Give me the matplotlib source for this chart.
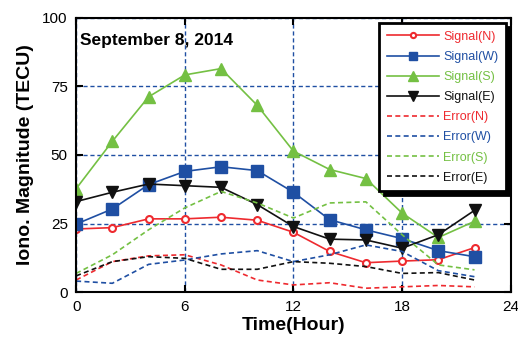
import matplotlib
matplotlib.use("Agg")
import matplotlib.pyplot as plt

plt.rcParams["font.family"] = ["Liberation Sans", "DejaVu Sans"]

hours = [0, 2, 4, 6, 8, 10, 12, 14, 16, 18, 20, 22]
signal_n = [23.0, 23.5, 26.7, 26.7, 27.3, 26.2, 21.8, 14.8, 10.7, 11.3, 11.8, 16.2]
signal_w = [24.8, 30.3, 39.2, 44.0, 45.7, 44.3, 36.4, 26.4, 22.7, 19.5, 15.1, 12.9]
signal_s = [37.7, 55.0, 71.2, 79.2, 81.5, 68.1, 51.4, 44.7, 41.4, 28.8, 19.9, 25.8]
signal_e = [33.0, 36.4, 39.4, 38.8, 38.2, 31.9, 23.9, 19.3, 19.0, 16.0, 20.9, 29.8]
error_n = [4.4, 11.1, 13.2, 13.6, 9.9, 4.4, 2.6, 3.4, 1.4, 1.9, 2.4, 1.9]
error_w = [4.0, 3.2, 10.1, 11.7, 13.9, 15.1, 11.1, 13.6, 17.2, 14.8, 7.8, 5.6]
error_s = [6.8, 13.6, 22.7, 30.7, 36.7, 32.5, 27.0, 32.5, 32.9, 20.9, 9.9, 8.1]
error_e = [5.9, 11.1, 12.9, 12.3, 8.3, 8.3, 11.1, 10.5, 9.3, 6.8, 7.1, 4.4]

red = "#ee2a2f"
blue = "#1f4fa3"
green = "#74c043"
black = "#111111"

fig = plt.figure(figsize=(5.18, 3.44), dpi=100)
ax = fig.add_axes([0.147, 0.151, 0.839, 0.797])

ax.plot(hours, signal_n, color=red, lw=1.2, marker="o", ms=5, mfc="white", mec=red, mew=1.5, label="Signal(N)")
ax.plot(hours, signal_w, color=blue, lw=1.2, marker="s", ms=8, label="Signal(W)")
ax.plot(hours, signal_s, color=green, lw=1.2, marker="^", ms=9, label="Signal(S)")
ax.plot(hours, signal_e, color=black, lw=1.2, marker="v", ms=9, label="Signal(E)")
ax.plot(hours, error_n, color=red, lw=1.2, ls=(0, (3, 2)), label="Error(N)")
ax.plot(hours, error_w, color=blue, lw=1.2, ls=(0, (3, 2)), label="Error(W)")
ax.plot(hours, error_s, color=green, lw=1.2, ls=(0, (3, 2)), label="Error(S)")
ax.plot(hours, error_e, color=black, lw=1.2, ls=(0, (3, 2)), label="Error(E)")

ax.set_xlim(0, 24)
ax.set_ylim(0, 100)
ax.set_xticks([0, 6, 12, 18, 24])
ax.set_yticks([0, 25, 50, 75, 100])
ax.grid(True, color=blue, ls=(0, (3, 2)), lw=1.0)
ax.tick_params(direction="in", length=5, width=1.5, top=True, right=True, labelsize=11, pad=6)
for s in ax.spines.values():
    s.set_linewidth(1.5)

ax.set_xlabel("Time(Hour)", fontsize=14, fontweight="bold", labelpad=2)
ax.set_ylabel("Iono. Magnitude (TECU)", fontsize=14, fontweight="bold", labelpad=6)
ax.text(0.01, 0.9, "September 8, 2014", transform=ax.transAxes, fontsize=12.5, fontweight="bold")

leg = ax.legend(loc="upper right", bbox_to_anchor=(1.003, 1.003), fontsize=9, frameon=True,
                fancybox=False, shadow={"color": "black", "alpha": 1, "ox": 3, "oy": -3},
                edgecolor="black", framealpha=1, markerscale=0.75,
                handlelength=4.2, labelspacing=0.65, borderpad=0.6, handletextpad=0.3)
leg.get_frame().set_linewidth(2)
colors = [red, blue, green, black, red, blue, green, black]
for t, c in zip(leg.get_texts(), colors):
    t.set_color(c)

fig.savefig("out.png", dpi=100)
